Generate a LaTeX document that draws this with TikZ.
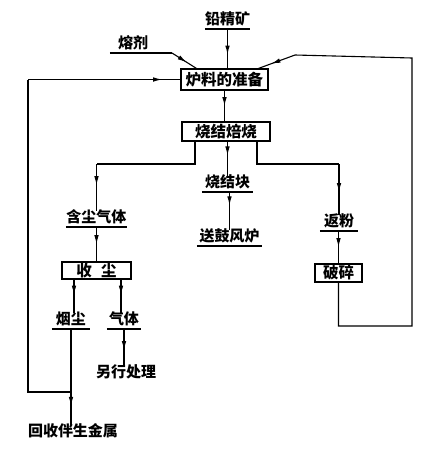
\documentclass[tikz,border=0pt]{standalone}
\usepackage{fontspec}
\setmainfont{Noto Sans CJK SC}
\usetikzlibrary{arrows.meta,decorations.markings}
\tikzset{
  ln/.style={line width=1.1pt},
  midarr/.style={postaction={decorate,decoration={markings,mark=at position #1 with {\arrow{Latex[length=9pt,width=4.6pt]}}}}},
  midarr/.default=0.5,
  boxnode/.style={draw,line width=1.3pt,inner sep=0pt,font=\fontsize{15.5}{15.5}\selectfont\bfseries},
  ul/.style={inner sep=0pt,minimum width=#1,text height=11pt,text depth=4.5pt,anchor=south,font=\fontsize{15}{15}\selectfont\bfseries},
  plain/.style={inner sep=0pt,text height=11pt,text depth=2.5pt,font=\fontsize{15}{15}\selectfont\bfseries}
}
\begin{document}
\begin{tikzpicture}[x=1pt,y=-1pt]
\useasboundingbox (0,0) rectangle (442,451);
% boxes
\node[boxnode,minimum width=87pt,minimum height=21pt] (prep) at (224.5,79.5) {炉料的准备};
\node[boxnode,minimum width=88pt,minimum height=19pt] (roast) at (226,131.5) {烧结焙烧};
\node[boxnode,minimum width=69pt,minimum height=17pt] (dust) at (96.5,270.5) {收\hspace{0.6em}尘};
\node[boxnode,minimum width=47pt,minimum height=18pt] (crush) at (338.5,273) {破碎};
% underlined texts
\node[ul=45pt] (ore) at (227.5,29) {铅精矿};
\node[ul=46pt] (flux) at (133,53) {熔剂};
\node[ul=51pt] (sinter) at (227.5,192) {烧结块};
\node[ul=65pt] (blast) at (229.5,246) {送鼓风炉};
\node[ul=61pt] (dgas) at (96.5,227) {含尘气体};
\node[ul=38pt] (ret) at (339,231) {返粉};
\node[ul=38pt] (smoke) at (71,329) {烟尘};
\node[ul=34pt] (gas) at (124,329) {气体};
\node[plain] (other) at (126,373) {另行处理};
\node[plain] (rec) at (73,432) {回收伴生金属};
\foreach \n in {ore,flux,sinter,blast,dgas,ret,smoke,gas}
  \draw[ln] (\n.south west) -- (\n.south east);
% coordinates
\coordinate (fx) at (172,53);
\coordinate (bl) at (195,164);
\coordinate (br) at (257,164);
\coordinate (yj) at (0,392);
\coordinate (lx) at (28,0);
\coordinate (rb) at (412,326);
\coordinate (rt) at (412,58);
\coordinate (rd) at (295,55);
\coordinate (xl) at (74,0);
\coordinate (xr) at (121,0);
% connectors
\draw[ln,midarr=0.65] (ore.south) -- (ore.south |- prep.north);
\draw[ln] (flux.south east) -- (fx);
\draw[ln,midarr=0.6] (fx) -- ([xshift=16pt]prep.north west);
\draw[ln,midarr] (prep.south) -- (prep.south |- roast.north);
\draw[ln] (roast.south -| bl) -- (bl) -- (bl -| dgas.north);
\draw[ln,midarr=0.45] (bl -| dgas.north) -- (dgas.north);
\draw[ln,midarr=0.4] (roast.south -| sinter.north) -- (sinter.north);
\draw[ln] (roast.south -| br) -- (br) -- (br -| ret.north);
\draw[ln,midarr=0.55] (br -| ret.north) -- (ret.north);
\draw[ln,midarr=0.35] (sinter.south -| blast.north) -- (blast.north);
\draw[ln,midarr] (dgas.south -| dust.north) -- (dust.north);
\draw[ln,midarr] (ret.south -| crush.north) -- (crush.north);
\draw[ln,midarr=0.45] (dust.south -| xl) -- (xl |- smoke.north);
\draw[ln,midarr=0.45] (dust.south -| xr) -- (xr |- gas.north);
\draw[ln,midarr=0.57] (gas.south) -- (gas.south |- other.north);
\draw[ln,midarr=0.8] (smoke.south) -- (smoke.south |- rec.north);
\draw[ln] (smoke.south |- yj) -- (lx |- yj) -- (lx |- prep.west);
\draw[ln,midarr=0.88] (lx |- prep.west) -- (prep.west);
\draw[ln] (crush.south) -- (crush.south |- rb) -- (rb) -- (rt) -- (rd);
\draw[ln,midarr=0.65] (rd) -- ([xshift=-10pt]prep.north east);
\end{tikzpicture}
\end{document}
